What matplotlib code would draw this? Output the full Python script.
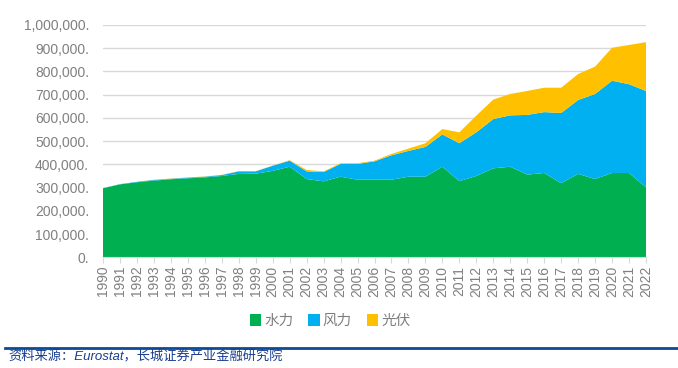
#!/usr/bin/env python3
import numpy as np
import matplotlib.pyplot as plt
from matplotlib.ticker import FuncFormatter

plt.rcParams['font.family'] = ['Liberation Sans', 'Noto Sans CJK SC', 'DejaVu Sans']

years = list(range(1990, 2023))

# generation
hydro = [297000, 314000, 323000, 330000, 336000, 340000, 344000, 350000, 359000, 360000,
         372000, 390000, 337000, 327000, 347000, 334000, 334000, 334000, 347000, 347000,
         390000, 328000, 350000, 383000, 390000, 356000, 363000, 319000, 359000, 337000,
         363000, 363000, 301000]
wind = [1000, 1000, 2000, 3000, 2000, 3000, 3000, 4000, 11000, 10000,
        22000, 26000, 33000, 40000, 55000, 68000, 79000, 105000, 111000, 128000,
        139000, 163000, 188000, 212000, 221000, 257000, 262000, 302000, 318000, 366000,
        397000, 382000, 415000]
solar = [0, 0, 0, 1000, 1000, 1000, 1000, 1000, 1000, 1000,
         1000, 2000, 6000, 3000, 3000, 3000, 3000, 6000, 10000, 16000,
         23000, 47000, 72000, 84000, 92000, 103000, 105000, 109000, 112000, 118000,
         142000, 169000, 210000]

names = ["水力", "风力", "光伏"]
colors = ["#00b050", "#00b0f0", "#ffc000"]


def main():
    fig = plt.figure(figsize=(6.78, 3.68), dpi=100)
    ax = fig.add_axes([103 / 678, 1 - 257.3 / 368, 543 / 678, 232.3 / 368])

    ax.stackplot(years, hydro, wind, solar, colors=colors, labels=names, linewidth=0)

    ax.set_xlim(1990, 2022)
    ax.set_ylim(0, 1000000)
    ax.set_yticks(np.arange(0, 1000001, 100000))
    ax.yaxis.set_major_formatter(FuncFormatter(lambda v, p: f"{v:,.0f}."))
    ax.set_xticks(years)
    ax.set_xticklabels([str(y) for y in years], rotation=90)

    ax.grid(axis="y", color="#d9d9d9", linewidth=1)
    ax.set_axisbelow(True)
    for s in ["top", "right", "left"]:
        ax.spines[s].set_visible(False)
    ax.spines["bottom"].set_color("#d9d9d9")
    ax.tick_params(axis="y", length=0, labelsize=10, labelcolor="#808080", pad=10)
    ax.tick_params(axis="x", length=4, color="#d9d9d9", labelsize=10,
                   labelcolor="#808080", pad=2)

    leg = fig.legend(loc="center", bbox_to_anchor=(330 / 678, 1 - 321 / 368), ncol=3,
                     frameon=False, handlelength=0.8, handleheight=0.8,
                     handletextpad=0.2, columnspacing=1.0,
                     prop={"family": ["Noto Sans CJK SC"], "size": 10.5})
    for t in leg.get_texts():
        t.set_color("#7f7f7f")

    # source line
    fig.add_artist(plt.Line2D([5 / 678, 1], [1 - 347.5 / 368] * 2, color="#0b4a94",
                              linewidth=2, transform=fig.transFigure))
    fig.text(8 / 678, 1 - 357 / 368, "资料来源：Eurostat，长城证券产业金融研究院",
             color="#1a3f8f", fontsize=9.5, style="italic", va="center",
             family=["Liberation Sans", "Noto Sans CJK SC", "DejaVu Sans"])

    plt.savefig("out.png", dpi=100)


if __name__ == "__main__":
    main()
